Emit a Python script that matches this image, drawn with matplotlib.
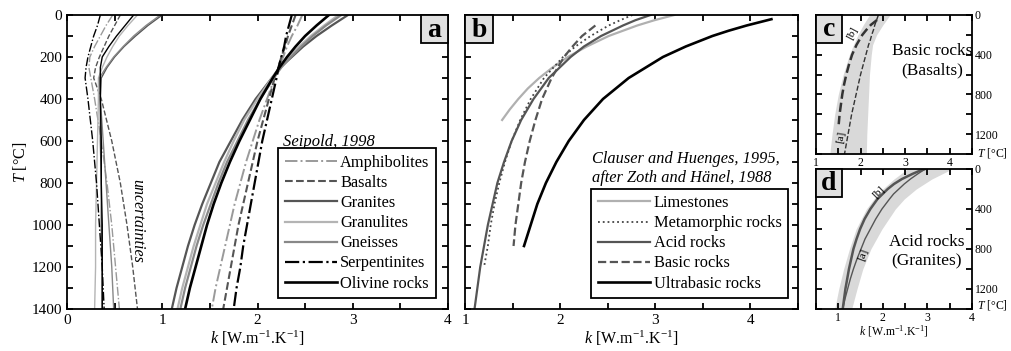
import matplotlib
matplotlib.use("Agg")
import matplotlib.pyplot as plt
from matplotlib.patches import Rectangle
from matplotlib.ticker import MultipleLocator

plt.rcParams["font.family"] = "Liberation Serif"
plt.rcParams["mathtext.fontset"] = "custom"
plt.rcParams["mathtext.rm"] = "Liberation Serif"
plt.rcParams["mathtext.it"] = "Liberation Serif:italic"
plt.rcParams["mathtext.bf"] = "Liberation Serif:bold"

# =====================================================
# SEIPOLD (1998) : k(T) and uncertainties
# =====================================================

T_SEIPOLD = [0, 50, 100, 150, 200, 250, 300, 400, 500, 600, 700, 800, 900, 1000, 1100, 1200, 1300, 1400]

amphibolites_k = [2.47, 2.42, 2.36, 2.31, 2.27, 2.22, 2.18, 2.10, 2.02, 1.95, 1.88, 1.82, 1.76, 1.71, 1.66, 1.61, 1.56, 1.52]
basalts_k = [2.40, 2.36, 2.32, 2.29, 2.25, 2.22, 2.18, 2.12, 2.06, 2.00, 1.95, 1.90, 1.85, 1.80, 1.76, 1.72, 1.68, 1.64]
granites_k = [2.95, 2.78, 2.62, 2.48, 2.36, 2.24, 2.15, 1.98, 1.84, 1.72, 1.60, 1.51, 1.42, 1.34, 1.27, 1.21, 1.15, 1.10]
granulites_k = [2.85, 2.70, 2.56, 2.44, 2.33, 2.23, 2.15, 2.00, 1.86, 1.75, 1.65, 1.56, 1.47, 1.40, 1.33, 1.27, 1.21, 1.16]
gneisses_k = [2.88, 2.72, 2.58, 2.46, 2.35, 2.25, 2.17, 2.03, 1.90, 1.79, 1.68, 1.59, 1.51, 1.43, 1.36, 1.30, 1.24, 1.19]
serpentinites_k = [2.36, 2.33, 2.30, 2.28, 2.25, 2.22, 2.20, 2.15, 2.10, 2.05, 2.01, 1.97, 1.93, 1.89, 1.85, 1.82, 1.78, 1.75]
olivine_k = [2.75, 2.62, 2.50, 2.40, 2.31, 2.23, 2.16, 2.03, 1.92, 1.81, 1.71, 1.62, 1.54, 1.47, 1.41, 1.35, 1.29, 1.24]

T_UNC = [0, 50, 100, 150, 200, 250, 300, 400, 600, 800, 1000, 1200, 1400]

amphibolites_u = [0.48, 0.41, 0.35, 0.29, 0.24, 0.23, 0.25, 0.29, 0.36, 0.42, 0.47, 0.51, 0.55]
basalts_u = [0.56, 0.50, 0.44, 0.39, 0.34, 0.30, 0.28, 0.36, 0.47, 0.56, 0.63, 0.69, 0.74]
granites_u = [1.00, 0.85, 0.72, 0.60, 0.50, 0.42, 0.36, 0.35, 0.35, 0.36, 0.36, 0.37, 0.37]
granulites_u = [0.74, 0.64, 0.55, 0.48, 0.42, 0.37, 0.33, 0.33, 0.32, 0.31, 0.30, 0.30, 0.29]
gneisses_u = [0.98, 0.83, 0.70, 0.59, 0.49, 0.41, 0.34, 0.35, 0.38, 0.41, 0.44, 0.47, 0.49]
serpentinites_u = [0.35, 0.32, 0.28, 0.25, 0.22, 0.20, 0.19, 0.22, 0.27, 0.31, 0.34, 0.37, 0.39]
olivine_u = [0.70, 0.61, 0.52, 0.44, 0.37, 0.35, 0.35, 0.35, 0.36, 0.36, 0.37, 0.37, 0.37]

# =====================================================
# CLAUSER AND HUENGES (1995)
# =====================================================

T_LIME = [0, 25, 50, 100, 150, 200, 250, 300, 350, 400, 450, 500]
lime_k = [3.20, 2.99, 2.81, 2.51, 2.28, 2.08, 1.92, 1.78, 1.66, 1.56, 1.47, 1.39]

T_META = [0, 25, 50, 100, 150, 200, 300, 400, 500, 600, 700, 800, 900, 1000, 1100, 1200]
meta_k = [2.76, 2.63, 2.51, 2.32, 2.16, 2.03, 1.83, 1.69, 1.58, 1.49, 1.42, 1.36, 1.31, 1.27, 1.24, 1.20]

T_ACID = [0, 25, 50, 100, 150, 200, 300, 400, 500, 600, 700, 800, 900, 1000, 1100, 1200, 1300, 1400]
acid_k = [2.95, 2.79, 2.66, 2.43, 2.25, 2.11, 1.88, 1.72, 1.59, 1.49, 1.41, 1.34, 1.29, 1.24, 1.20, 1.16, 1.13, 1.10]

T_BASIC = [50, 75, 100, 150, 200, 300, 400, 500, 600, 700, 800, 900, 1000, 1100]
basic_k = [2.37, 2.30, 2.23, 2.13, 2.04, 1.91, 1.81, 1.74, 1.68, 1.63, 1.59, 1.56, 1.53, 1.51]

T_ULTRA = [20, 35, 50, 75, 100, 150, 200, 300, 400, 500, 600, 700, 800, 900, 1000, 1100]
ultra_k = [4.22, 4.09, 3.96, 3.77, 3.60, 3.32, 3.08, 2.72, 2.45, 2.25, 2.09, 1.96, 1.85, 1.76, 1.69, 1.62]

# ranges for the shaded envelopes (panels c and d)
T_BAND = [0, 100, 200, 300, 400, 600, 800, 1000, 1200, 1400]
basic_lo = [2.20, 2.06, 1.94, 1.84, 1.75, 1.61, 1.50, 1.42, 1.36, 1.31]
basic_hi = [2.66, 2.50, 2.36, 2.27, 2.24, 2.20, 2.18, 2.16, 2.14, 2.13]
acid_lo = [2.55, 2.25, 2.00, 1.80, 1.63, 1.40, 1.25, 1.12, 1.01, 0.92]
acid_hi = [3.55, 3.10, 2.75, 2.48, 2.28, 1.98, 1.73, 1.55, 1.42, 1.30]

K_LABEL = r"$k$ [W.m$^{-1}$.K$^{-1}$]"
T_LABEL = r"$T$ [°C]"

# =====================================================
# HELPERS
# =====================================================

def style_axes(ax, xlim, xminor, yminor, ymajor, size):
    ax.set_xlim(*xlim)
    ax.set_ylim(1400, 0)
    ax.xaxis.set_major_locator(MultipleLocator(1))
    ax.xaxis.set_minor_locator(MultipleLocator(xminor))
    ax.yaxis.set_major_locator(MultipleLocator(ymajor))
    ax.yaxis.set_minor_locator(MultipleLocator(yminor))
    ax.tick_params(which="both", direction="in", top=True, right=True,
                   length=4, width=1.3, labelsize=size)
    for sp in ax.spines.values():
        sp.set_linewidth(1.3)


def boxed_legend(ax, handles, labels, anchor):
    leg = ax.legend(handles, labels, loc="lower right",
                    bbox_to_anchor=anchor, borderaxespad=0,
                    fontsize=11.8, handlelength=3.2, handletextpad=0.2,
                    labelspacing=0.25, borderpad=0.4, fancybox=False,
                    framealpha=1, edgecolor="black")
    leg.get_frame().set_linewidth(1.3)
    return leg


def panel_tag(ax, letter, x0, y0, w, h, size=20):
    ax.add_patch(Rectangle((x0, y0), w, h, transform=ax.transAxes,
                           facecolor="#e0e0e0", edgecolor="black",
                           linewidth=1.3, zorder=10, clip_on=False))
    ax.text(x0 + w / 2, y0 + h / 2 - 0.005, letter, transform=ax.transAxes,
            ha="center", va="center", fontsize=size, fontweight="bold",
            zorder=11)


fig = plt.figure(figsize=(10.12, 3.51), dpi=100)

ax_a = fig.add_axes([0.0662, 0.1197, 0.3765, 0.8376])
ax_b = fig.add_axes([0.4595, 0.1197, 0.3291, 0.8376])
ax_c = fig.add_axes([0.8063, 0.5613, 0.1542, 0.3960])
ax_d = fig.add_axes([0.8063, 0.1197, 0.1542, 0.3989])

# =====================================================
# PANEL A
# =====================================================

seipold = [
    ("Amphibolites", amphibolites_k, amphibolites_u, "#9a9a9a", "-.", 1.4),
    ("Basalts", basalts_k, basalts_u, "#555555", "--", 1.5),
    ("Granites", granites_k, granites_u, "#555555", "-", 1.6),
    ("Granulites", granulites_k, granulites_u, "#b4b4b4", "-", 1.6),
    ("Gneisses", gneisses_k, gneisses_u, "#888888", "-", 1.6),
    ("Serpentinites", serpentinites_k, serpentinites_u, "black", "-.", 1.6),
    ("Olivine rocks", olivine_k, olivine_u, "black", "-", 1.9),
]

handles_a = []
for name, k, u, col, ls, lw in seipold:
    line, = ax_a.plot(k, T_SEIPOLD, color=col, ls=ls, lw=lw)
    ax_a.plot(u, T_UNC, color=col, ls=ls, lw=1.0)
    handles_a.append(line)

style_axes(ax_a, (0, 4), 0.5, 100, 200, 11)
ax_a.set_ylabel(T_LABEL, fontsize=11.5, labelpad=2)
ax_a.set_xlabel(K_LABEL, fontsize=11.5, labelpad=1)

ax_a.text(0.74, 980, "uncertainties", rotation=-90, style="italic",
          fontsize=11.5, ha="center", va="center")
ax_a.text(0.567, 0.568, "Seipold, 1998", transform=ax_a.transAxes,
          style="italic", fontsize=12, ha="left", va="center")

boxed_legend(ax_a, handles_a, [s[0] for s in seipold], (0.969, 0.037))
panel_tag(ax_a, "a", 0.929, 0.905, 0.071, 0.095)

# =====================================================
# PANEL B
# =====================================================

clauser = [
    ("Limestones", T_LIME, lime_k, "#b0b0b0", "-", 1.6),
    ("Metamorphic rocks", T_META, meta_k, "#444444", ":", 1.3),
    ("Acid rocks", T_ACID, acid_k, "#555555", "-", 1.6),
    ("Basic rocks", T_BASIC, basic_k, "#555555", "--", 1.6),
    ("Ultrabasic rocks", T_ULTRA, ultra_k, "black", "-", 1.9),
]

handles_b = []
for name, T, k, col, ls, lw in clauser:
    line, = ax_b.plot(k, T, color=col, ls=ls, lw=lw)
    handles_b.append(line)

style_axes(ax_b, (1, 4.5), 0.5, 100, 200, 11)
ax_b.tick_params(labelleft=False)
ax_b.set_xlabel(K_LABEL, fontsize=11.5, labelpad=1)

ax_b.text(0.381, 0.510, "Clauser and Huenges, 1995,", transform=ax_b.transAxes,
          style="italic", fontsize=11.8, ha="left", va="center")
ax_b.text(0.381, 0.446, "after Zoth and Hänel, 1988", transform=ax_b.transAxes,
          style="italic", fontsize=11.8, ha="left", va="center")

boxed_legend(ax_b, handles_b, [c[0] for c in clauser], (0.970, 0.037))
panel_tag(ax_b, "b", 0.0, 0.905, 0.084, 0.095)

# =====================================================
# PANEL C : basic rocks
# =====================================================

ax_c.fill_betweenx(T_BAND, basic_lo, basic_hi, color="#d9d9d9", lw=0)
ax_c.plot(basalts_k, T_SEIPOLD, color="#333333", ls="--", lw=1.0)
ax_c.plot(basic_k, T_BASIC, color="#333333", ls="--", lw=1.8)

style_axes(ax_c, (1, 4.5), 0.5, 200, 400, 8.5)
ax_c.tick_params(labelleft=False, labelright=True, pad=2)
ax_c.text(1.03, 0.01, T_LABEL, transform=ax_c.transAxes, fontsize=8.5,
          ha="left", va="center")
ax_c.text(3.6, 463, "Basic rocks\n(Basalts)", fontsize=12.5, ha="center",
          va="center", linespacing=1.25)
ax_c.text(1.82, 180, "[b]", fontsize=8, rotation=62, ha="center", va="center")
ax_c.text(1.56, 1230, "[a]", fontsize=8, rotation=80, ha="center", va="center")

panel_tag(ax_c, "c", 0.0, 0.8, 0.167, 0.2)

# =====================================================
# PANEL D : acid rocks
# =====================================================

ax_d.fill_betweenx(T_BAND, acid_lo, acid_hi, color="#d9d9d9", lw=0)
ax_d.plot(granites_k, T_SEIPOLD, color="#555555", ls="-", lw=1.0)
ax_d.plot(acid_k, T_ACID, color="#555555", ls="-", lw=1.8)

style_axes(ax_d, (0.5, 4), 0.5, 200, 400, 8.5)
ax_d.tick_params(labelleft=False, labelright=True, pad=2)
ax_d.set_xlabel(K_LABEL, fontsize=8.5, labelpad=0)
ax_d.text(1.03, 0.03, T_LABEL, transform=ax_d.transAxes, fontsize=8.5,
          ha="left", va="center")
ax_d.text(2.98, 830, "Acid rocks\n(Granites)", fontsize=12.5, ha="center",
          va="center", linespacing=1.25)
ax_d.text(1.9, 230, "[b]", fontsize=8, rotation=45, ha="center", va="center")
ax_d.text(1.56, 860, "[a]", fontsize=8, rotation=70, ha="center", va="center")

panel_tag(ax_d, "d", 0.0, 0.8, 0.167, 0.2)

fig.savefig("out.png", dpi=100)
